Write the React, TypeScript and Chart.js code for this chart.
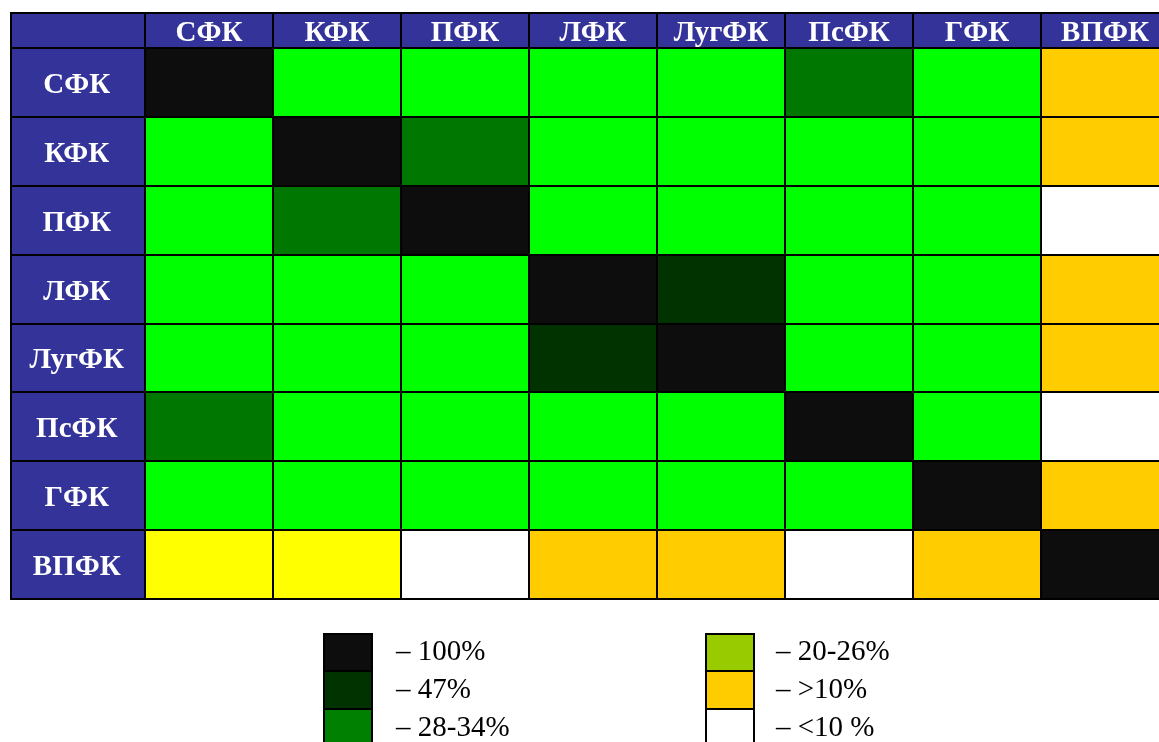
import React, { useEffect, useRef } from 'react';
import { Chart, registerables } from 'chart.js';

Chart.register(...registerables);

// ---- data ----
const columnLabels = ['СФК', 'КФК', 'ПФК', 'ЛФК', 'ЛугФК', 'ПсФК', 'ГФК', 'ВПФК'];
const rowLabels = ['СФК', 'КФК', 'ПФК', 'ЛФК', 'ЛугФК', 'ПсФК', 'ГФК', 'ВПФК'];

// similarity class of every cell (row by row)
const rowSFK = ['100', 'hi', 'hi', 'hi', 'hi', '28', 'hi', '10'];
const rowKFK = ['hi', '100', '28', 'hi', 'hi', 'hi', 'hi', '10'];
const rowPFK = ['hi', '28', '100', 'hi', 'hi', 'hi', 'hi', 'lt10'];
const rowLFK = ['hi', 'hi', 'hi', '100', '47', 'hi', 'hi', '10'];
const rowLugFK = ['hi', 'hi', 'hi', '47', '100', 'hi', 'hi', '10'];
const rowPsFK = ['28', 'hi', 'hi', 'hi', 'hi', '100', 'hi', 'lt10'];
const rowGFK = ['hi', 'hi', 'hi', 'hi', 'hi', 'hi', '100', '10'];
const rowVPFK = ['y', 'y', 'lt10', '10', '10', 'lt10', '10', '100'];

const matrix = [rowSFK, rowKFK, rowPFK, rowLFK, rowLugFK, rowPsFK, rowGFK, rowVPFK];

const legendKeys = ['100', '47', '28', '20', '10', 'lt10'];
const legendLabels = ['– 100%', '– 47%', '– 28-34%', '– 20-26%', '– >10%', '– <10 %'];

// ---- styles ----
const cellColors: Record<string, string> = {
  '100': '#0D0D0D',
  '47': '#003300',
  '28': '#007700',
  hi: '#00FF00',
  y: '#FFFF00',
  '10': '#FFCC00',
  lt10: '#FFFFFF',
};
const legendColors: Record<string, string> = {
  '100': '#0D0D0D',
  '47': '#003300',
  '28': '#008000',
  '20': '#99CC00',
  '10': '#FFCC00',
  lt10: '#FFFFFF',
};
const headerBlue = '#333399';
const serif = '"Liberation Serif", "Times New Roman", serif';

const tablePlugin = {
  id: 'tableFrame',
  beforeDraw(chart: any) {
    const { ctx, chartArea: a, scales } = chart;
    const left = scales.y.left;
    const top = scales.x.top;
    ctx.save();
    ctx.fillStyle = headerBlue;
    ctx.fillRect(left, top, a.right - left, a.top - top);
    ctx.fillRect(left, a.top, a.left - left, a.bottom - a.top);
    ctx.restore();
  },
  afterDatasetsDraw(chart: any) {
    const { ctx, chartArea: a, scales } = chart;
    const left = scales.y.left;
    const top = scales.x.top;
    const cw = (a.right - a.left) / columnLabels.length;
    const xs: number[] = [left + 1];
    for (let i = 0; i <= columnLabels.length; i++) xs.push(Math.round(scales.x.getPixelForValue(i) - cw / 2));
    const ys: number[] = [top + 1];
    for (let j = 0; j <= rowLabels.length; j++) ys.push(Math.round(scales.y.getPixelForValue(j)));
    ctx.save();
    ctx.strokeStyle = '#000';
    ctx.lineWidth = 2;
    ctx.beginPath();
    xs.forEach((x) => {
      ctx.moveTo(x, top);
      ctx.lineTo(x, a.bottom + 1);
    });
    ys.forEach((y) => {
      ctx.moveTo(left, y);
      ctx.lineTo(a.right + 2, y);
    });
    ctx.stroke();
    ctx.restore();
  },
};

function MatrixChart() {
  const ref = useRef<HTMLCanvasElement>(null);
  useEffect(() => {
    if (!ref.current) return;
    const datasets = matrix.map((row, r) => ({
      label: rowLabels[r],
      data: row.map(() => [r, r + 1]),
      backgroundColor: row.map((k) => cellColors[k]),
      borderWidth: 0,
      grouped: false,
      barPercentage: 1,
      categoryPercentage: 1,
    }));
    const chart = new Chart(ref.current, {
      type: 'bar',
      data: { labels: columnLabels, datasets: datasets as any },
      plugins: [tablePlugin],
      options: {
        responsive: false,
        animation: false,
        devicePixelRatio: 1,
        layout: { padding: { left: 10, top: 12, right: 6, bottom: 143 } },
        plugins: { legend: { display: false }, tooltip: { enabled: false } },
        scales: {
          x: {
            type: 'category',
            position: 'top',
            offset: true,
            grid: { display: false, drawTicks: false },
            border: { display: false },
            ticks: {
              color: '#FFFFFF',
              font: { family: serif, size: 29, weight: 'bold' },
              padding: -3,
              maxRotation: 0,
              autoSkip: false,
            },
            afterFit: (s: any) => {
              s.height = 36;
            },
          },
          y: {
            type: 'linear',
            position: 'left',
            reverse: true,
            min: 0,
            max: 8,
            grid: { display: false, drawTicks: false },
            border: { display: false },
            afterBuildTicks: (s: any) => {
              s.ticks = rowLabels.map((_, i) => ({ value: i + 0.5 }));
            },
            ticks: {
              autoSkip: false,
              color: '#FFFFFF',
              font: { family: serif, size: 29, weight: 'bold' },
              crossAlign: 'center',
              padding: 21,
              labelOffset: 3,
              callback: (_v: any, i: number) => rowLabels[i],
            },
            afterFit: (s: any) => {
              s.width = 135;
            },
          },
        },
      } as any,
    });
    return () => chart.destroy();
  }, []);
  return <canvas ref={ref} width={1175} height={742} style={{ display: 'block' }} />;
}

function Legend() {
  const tops = [633, 670, 708];
  const baselines = [660, 698, 736];
  return (
    <>
      {legendKeys.map((k, i) => {
        const col = Math.floor(i / 3);
        const rowI = i % 3;
        const sqLeft = col === 0 ? 323 : 705;
        const txtLeft = col === 0 ? 396 : 776;
        return (
          <React.Fragment key={k}>
            <div
              style={{
                position: 'absolute',
                left: sqLeft,
                top: tops[rowI],
                width: 50,
                height: 40,
                boxSizing: 'border-box',
                border: '2px solid #000',
                background: legendColors[k],
              }}
            />
            <div
              style={{
                position: 'absolute',
                left: txtLeft,
                top: baselines[rowI] - 24,
                fontFamily: serif,
                fontSize: 29,
                lineHeight: '29px',
                color: '#000',
                whiteSpace: 'pre',
              }}
            >
              {legendLabels[i]}
            </div>
          </React.Fragment>
        );
      })}
    </>
  );
}

export default function App() {
  return (
    <div
      style={{
        position: 'fixed',
        left: 0,
        top: 0,
        width: 1159,
        height: 742,
        overflow: 'hidden',
        background: '#FFFFFF',
      }}
    >
      <MatrixChart />
      <Legend />
    </div>
  );
}
